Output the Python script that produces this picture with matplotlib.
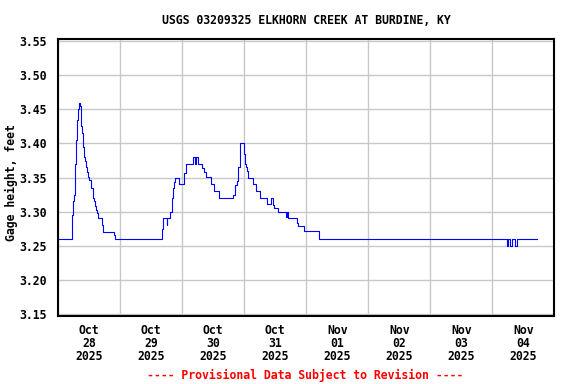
import matplotlib
matplotlib.use("Agg")
import matplotlib.pyplot as plt
import matplotlib.dates as mdates
import pandas as pd
import numpy as np

# gage height change points: hours since 2025-10-28 00:00, feet
hours = [0.0, 5.5, 5.75, 6.25, 6.5, 7.0, 7.25, 7.75, 8.0, 8.25, 8.75, 9.25, 9.75,
         10.0, 10.5, 10.75, 11.25, 11.5, 12.0, 12.5, 12.75, 13.25, 13.5, 14.0,
         14.25, 14.75, 15.0, 15.5, 16.75, 17.5, 21.75, 22.0,
         40.0, 40.5, 42.0, 42.25, 43.25, 44.0, 44.5, 44.75, 45.25, 46.75, 48.5,
         48.75, 49.25, 49.5, 52.25, 52.75, 53.5, 54.25, 55.5, 56.25, 57.0, 59.0,
         60.25, 62.25, 67.75, 68.25, 68.5, 69.0, 69.5, 69.75, 70.25, 70.5,
         71.75, 72.25, 72.5, 73.0, 73.5, 73.75, 75.25, 76.5, 78.25, 80.75, 82.25,
         83.0, 83.5, 85.0, 88.25, 88.5, 88.75, 92.25, 92.75, 95.0, 100.75,
         173.75, 174.25, 175.0, 175.75, 176.75, 177.5, 185.5]
stage = [3.26, 3.295, 3.315, 3.325, 3.37, 3.405, 3.435, 3.45, 3.46, 3.455, 3.425,
         3.415, 3.395, 3.38, 3.375, 3.365, 3.358, 3.351, 3.346, 3.34, 3.334, 3.327,
         3.32, 3.315, 3.308, 3.302, 3.298, 3.291, 3.28, 3.27, 3.266, 3.26,
         3.275, 3.29, 3.28, 3.29, 3.30, 3.32, 3.334, 3.344, 3.35, 3.34, 3.349,
         3.356, 3.365, 3.37, 3.38, 3.37, 3.38, 3.37, 3.364, 3.358, 3.351, 3.34,
         3.331, 3.32, 3.324, 3.331, 3.339, 3.345, 3.356, 3.366, 3.383, 3.40,
         3.385, 3.37, 3.365, 3.36, 3.35, 3.349, 3.341, 3.331, 3.32, 3.311, 3.32,
         3.31, 3.306, 3.30, 3.292, 3.30, 3.29, 3.284, 3.279, 3.271, 3.26,
         3.25, 3.26, 3.25, 3.26, 3.25, 3.26, 3.26]

y_ticks = [3.15, 3.20, 3.25, 3.30, 3.35, 3.40, 3.45, 3.50, 3.55]

start = pd.Timestamp("2025-10-28")
times = start + pd.to_timedelta(hours, unit="h")

font = "DejaVu Sans Mono"
fs = 8.3

fig = plt.figure(figsize=(5.76, 3.84), dpi=100)
ax = fig.add_axes([0.1012, 0.1779, 0.8611, 0.7211])

ax.plot(times, stage, color="#0000ff", lw=0.8, drawstyle="steps-post")

ax.set_xlim(start, start + pd.Timedelta(days=8))
ax.set_ylim(3.1475, 3.5535)

ax.xaxis.set_major_locator(mdates.DayLocator())
ax.xaxis.set_major_formatter(plt.NullFormatter())
ax.xaxis.set_minor_locator(mdates.HourLocator(byhour=12))
ax.xaxis.set_minor_formatter(mdates.DateFormatter("%b\n%d\n%Y"))
ax.set_yticks(y_ticks)
ax.set_yticklabels(["%.2f" % v for v in y_ticks])

ax.tick_params(which="both", length=0)
ax.tick_params(axis="x", which="minor", pad=6)
ax.tick_params(axis="y", pad=8)
for lab in ax.get_xticklabels(minor=True) + ax.get_yticklabels():
    lab.set_family(font)
    lab.set_weight("bold")
    lab.set_fontsize(fs)
    lab.set_linespacing(1.0)

ax.grid(True, which="major", color="#c8c8c8", lw=1.0)
ax.set_axisbelow(True)
for s in ax.spines.values():
    s.set_linewidth(1.5)
    s.set_color("black")

fig.text(306.3 / 576, 1 - 20.7 / 384, "USGS 03209325 ELKHORN CREEK AT BURDINE, KY",
         ha="center", va="center", family=font, weight="bold", fontsize=fs)
fig.text(11.7 / 576, 1 - 183 / 384, "Gage height, feet", rotation=90,
         ha="center", va="center", family=font, weight="bold", fontsize=fs)
fig.text(305 / 576, 1 - 375 / 384, "---- Provisional Data Subject to Revision ----",
         ha="center", va="center", family=font, weight="bold", fontsize=fs,
         color="#ff0000")

fig.savefig("out.png", dpi=100)
